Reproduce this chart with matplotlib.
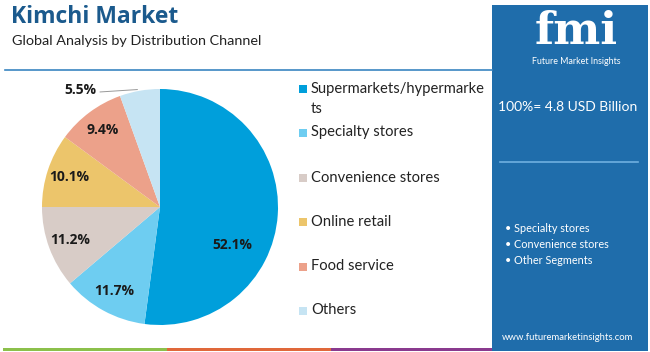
import numpy as np
import matplotlib.pyplot as plt
from matplotlib.patches import Rectangle

# data
channels = ['Supermarkets/hypermarke\nts', 'Specialty stores', 'Convenience stores',
            'Online retail', 'Food service', 'Others']
shares = [52.1, 11.7, 11.2, 10.1, 9.4, 5.5]
colors = ['#009fdb', '#6ecdf1', '#d8ccc7', '#ecc56b', '#eca18a', '#c6e4f3']
side_items = ['Specialty stores', 'Convenience stores', 'Other Segments']
market_size = '100%= 4.8 USD Billion'

W, H = 650, 352
fig = plt.figure(figsize=(W / 100, H / 100), dpi=100)
fig.patch.set_facecolor('white')


def px(x, y):
    # pixel coords (from top-left) -> figure fraction
    return x / W, 1 - y / H


FONT = 'Lato'

# header
fig.text(*px(11, 17), 'Kimchi Market', fontsize=16.5, fontweight='bold',
         color='#1b5a8d', family='Open Sans', va='center')
fig.text(*px(12, 41), 'Global Analysis by Distribution Channel', fontsize=10.4,
         color='#222222', family=FONT, va='center')
fig.add_artist(plt.Line2D([5 / W, 492 / W], [1 - 70 / H] * 2, color='#3a85c1', lw=1.2))

# bottom colour strip
for x0, x1, c in [(3, 167, '#8cc04b'), (167, 331, '#e0683a'), (331, 495, '#8a3a8e')]:
    fig.add_artist(Rectangle(px(x0, 351), (x1 - x0) / W, 3 / H, color=c, lw=0))

# right panel
fig.add_artist(Rectangle(px(492, 351), (648 - 492) / W, 346 / H, color='#1f6dab', lw=0))
fig.text(*px(576, 31), 'fmi', fontsize=32, fontweight='bold', color='white',
         family='DejaVu Serif', ha='center', va='center')
fig.text(*px(576, 61), 'Future Market Insights', fontsize=6.4, color='white',
         family=FONT, ha='center', va='center')
fig.text(*px(568, 107), market_size, fontsize=10, color='white',
         family=FONT, ha='center', va='center')
fig.add_artist(plt.Line2D([500 / W, 638 / W], [1 - 162 / H] * 2, color='#6fb0e0', lw=1.2))
for i, item in enumerate(side_items):
    fig.text(*px(505, 229 + i * 15.5), '\u2022 ' + item, fontsize=7.8, color='white',
             family=FONT, va='center')
fig.text(*px(568, 337), 'www.futuremarketinsights.com', fontsize=6.8, color='white',
         family=FONT, ha='center', va='center')

# pie
cx, cy, r = 160, 207, 118
box = 120
ax = fig.add_axes([(cx - box) / W, (H - cy - box) / H, 2 * box / W, 2 * box / H])
wedges, _ = ax.pie(shares, colors=colors, startangle=90, counterclock=False,
                   radius=r / box, wedgeprops=dict(linewidth=0))
ax.set_xlim(-1, 1)
ax.set_ylim(-1, 1)
ax.set_aspect('equal')
ax.axis('off')

rad = r / box
for i, (w, s) in enumerate(zip(wedges, shares)):
    mid = np.deg2rad((w.theta1 + w.theta2) / 2)
    if i == 0:
        mid = np.deg2rad(-28)
        d = 0.69
    else:
        d = 0.81
    if i == len(shares) - 1:
        # outside label with leader line
        ex, ey = rad * np.cos(mid), rad * np.sin(mid)
        ax.plot([ex - 0.02, ex - 0.33], [ey + 0.01, ey - 0.01], color='#999999', lw=0.7)
        ax.text(ex - 0.36, ey + 0.01, f'{s}%', ha='right', va='center',
                fontsize=10, fontweight='bold', color='#1a1a1a', family='Open Sans')
        continue
    ax.text(d * rad * np.cos(mid), d * rad * np.sin(mid), f'{s}%', ha='center', va='center',
            fontsize=10, fontweight='bold', color='#1a1a1a', family='Open Sans')

# legend
ly = [89, 133, 178, 222, 267, 311]
for lab, c, y in zip(channels, colors, ly):
    fig.add_artist(Rectangle(px(299, y + 4), 8 / W, 8 / H, color=c, lw=0))
    fig.text(*px(311, y - 7.5), lab, fontsize=10.6, color='#222222', family=FONT,
             va='top', linespacing=1.6)

fig.savefig('out.png', dpi=100)
